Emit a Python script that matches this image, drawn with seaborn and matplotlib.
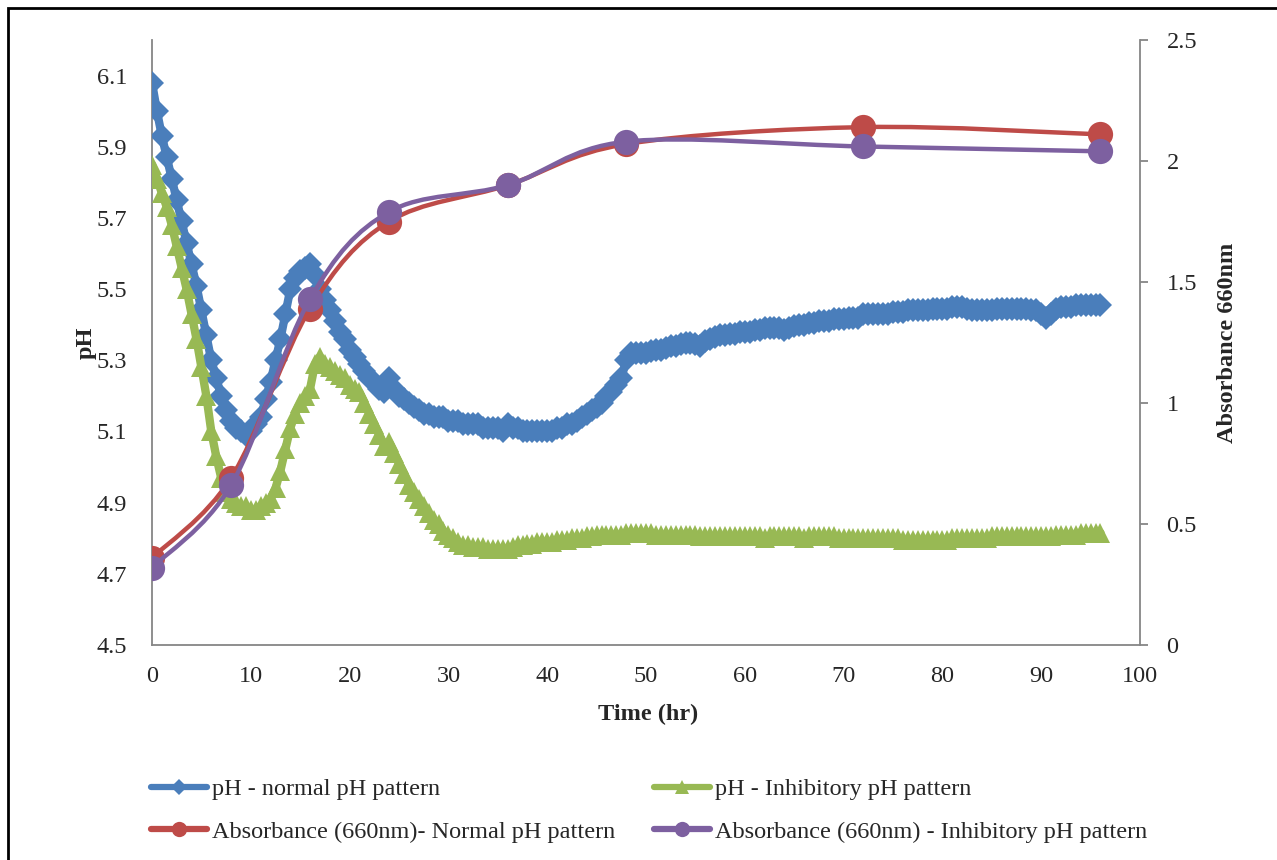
import numpy as np
import matplotlib
matplotlib.use('Agg')
import matplotlib.pyplot as plt
import seaborn as sns
from matplotlib.path import Path
from matplotlib.patches import PathPatch, Rectangle
from matplotlib.lines import Line2D

# pH readings, every half hour (hr)
time_hr = [
    0, 0.5, 1, 1.5, 2, 2.5, 3, 3.5, 4, 4.5, 5, 5.5, 6, 6.5, 7, 7.5, 8, 8.5, 9, 9.5,
    10, 10.5, 11, 11.5, 12, 12.5, 13, 13.5, 14, 14.5, 15, 15.5, 16, 16.5, 17, 17.5, 18, 18.5, 19, 19.5,
    20, 20.5, 21, 21.5, 22, 22.5, 23, 23.5, 24, 24.5, 25, 25.5, 26, 26.5, 27, 27.5, 28, 28.5, 29, 29.5,
    30, 30.5, 31, 31.5, 32, 32.5, 33, 33.5, 34, 34.5, 35, 35.5, 36, 36.5, 37, 37.5, 38, 38.5, 39, 39.5,
    40, 40.5, 41, 41.5, 42, 42.5, 43, 43.5, 44, 44.5, 45, 45.5, 46, 46.5, 47, 47.5, 48, 48.5, 49, 49.5,
    50, 50.5, 51, 51.5, 52, 52.5, 53, 53.5, 54, 54.5, 55, 55.5, 56, 56.5, 57, 57.5, 58, 58.5, 59, 59.5,
    60, 60.5, 61, 61.5, 62, 62.5, 63, 63.5, 64, 64.5, 65, 65.5, 66, 66.5, 67, 67.5, 68, 68.5, 69, 69.5,
    70, 70.5, 71, 71.5, 72, 72.5, 73, 73.5, 74, 74.5, 75, 75.5, 76, 76.5, 77, 77.5, 78, 78.5, 79, 79.5,
    80, 80.5, 81, 81.5, 82, 82.5, 83, 83.5, 84, 84.5, 85, 85.5, 86, 86.5, 87, 87.5, 88, 88.5, 89, 89.5,
    90, 90.5, 91, 91.5, 92, 92.5, 93, 93.5, 94, 94.5, 95, 95.5, 96,
]

ph_normal = [
    6.08, 6.00, 5.93, 5.87, 5.81, 5.75, 5.69, 5.63, 5.57, 5.51, 5.44, 5.37, 5.30, 5.25, 5.20, 5.16, 5.13, 5.11, 5.10, 5.09,
    5.10, 5.12, 5.14, 5.19, 5.24, 5.30, 5.36, 5.43, 5.50, 5.53, 5.55, 5.56, 5.57, 5.54, 5.50, 5.47, 5.44, 5.41, 5.38, 5.36,
    5.33, 5.31, 5.29, 5.27, 5.25, 5.24, 5.22, 5.21, 5.25, 5.22, 5.20, 5.19, 5.18, 5.17, 5.16, 5.15, 5.15, 5.14, 5.14, 5.14,
    5.13, 5.13, 5.13, 5.12, 5.12, 5.12, 5.12, 5.11, 5.11, 5.11, 5.11, 5.10, 5.12, 5.11, 5.11, 5.10, 5.10, 5.10, 5.10, 5.10,
    5.10, 5.10, 5.11, 5.11, 5.12, 5.12, 5.13, 5.14, 5.15, 5.16, 5.17, 5.18, 5.20, 5.21, 5.23, 5.25, 5.30, 5.32, 5.32, 5.32,
    5.32, 5.325, 5.33, 5.33, 5.335, 5.34, 5.34, 5.345, 5.35, 5.35, 5.345, 5.34, 5.355, 5.36, 5.365, 5.37, 5.37, 5.375, 5.375, 5.38,
    5.38, 5.38, 5.385, 5.385, 5.39, 5.39, 5.39, 5.39, 5.385, 5.39, 5.395, 5.40, 5.40, 5.405, 5.405, 5.41, 5.41, 5.41, 5.415, 5.415,
    5.415, 5.42, 5.42, 5.42, 5.43, 5.43, 5.43, 5.43, 5.43, 5.43, 5.435, 5.435, 5.435, 5.44, 5.44, 5.44, 5.44, 5.44, 5.445, 5.445,
    5.445, 5.445, 5.45, 5.45, 5.45, 5.445, 5.44, 5.44, 5.44, 5.44, 5.44, 5.445, 5.445, 5.445, 5.445, 5.445, 5.445, 5.445, 5.44, 5.44,
    5.43, 5.42, 5.43, 5.445, 5.45, 5.45, 5.45, 5.455, 5.455, 5.455, 5.455, 5.455, 5.455,
]

ph_inhib = [
    5.85, 5.81, 5.77, 5.73, 5.68, 5.62, 5.56, 5.50, 5.43, 5.36, 5.28, 5.20, 5.10, 5.03, 4.97, 4.93, 4.91, 4.90, 4.89, 4.89,
    4.88, 4.88, 4.89, 4.90, 4.91, 4.94, 4.99, 5.05, 5.11, 5.15, 5.18, 5.20, 5.22, 5.29, 5.31, 5.29, 5.28, 5.27, 5.26, 5.25,
    5.23, 5.22, 5.21, 5.18, 5.15, 5.12, 5.09, 5.06, 5.07, 5.04, 5.01, 4.98, 4.95, 4.93, 4.91, 4.89, 4.87, 4.85, 4.84, 4.82,
    4.81, 4.80, 4.79, 4.78, 4.78, 4.775, 4.775, 4.775, 4.77, 4.77, 4.77, 4.77, 4.77, 4.775, 4.78, 4.78, 4.785, 4.785, 4.79, 4.79,
    4.79, 4.79, 4.795, 4.795, 4.795, 4.80, 4.80, 4.80, 4.805, 4.805, 4.81, 4.81, 4.81, 4.81, 4.81, 4.81, 4.815, 4.815, 4.815, 4.815,
    4.815, 4.815, 4.81, 4.81, 4.81, 4.81, 4.81, 4.81, 4.81, 4.81, 4.81, 4.805, 4.805, 4.805, 4.805, 4.805, 4.805, 4.805, 4.805, 4.805,
    4.805, 4.805, 4.805, 4.805, 4.80, 4.805, 4.805, 4.805, 4.805, 4.805, 4.805, 4.805, 4.80, 4.805, 4.805, 4.805, 4.805, 4.805, 4.805, 4.80,
    4.80, 4.80, 4.80, 4.80, 4.80, 4.80, 4.80, 4.80, 4.80, 4.80, 4.80, 4.80, 4.795, 4.795, 4.795, 4.795, 4.795, 4.795, 4.795, 4.795,
    4.795, 4.795, 4.80, 4.80, 4.80, 4.80, 4.80, 4.80, 4.80, 4.80, 4.805, 4.805, 4.805, 4.805, 4.805, 4.805, 4.805, 4.805, 4.805, 4.805,
    4.805, 4.805, 4.805, 4.81, 4.81, 4.81, 4.81, 4.81, 4.815, 4.815, 4.815, 4.815, 4.815,
]

# absorbance sampling (hr) and readings
abs_time = [0, 8, 16, 24, 36, 48, 72, 96]
abs_normal = [0.36, 0.69, 1.39, 1.75, 1.90, 2.07, 2.14, 2.11]
abs_inhib = [0.32, 0.66, 1.43, 1.79, 1.90, 2.08, 2.06, 2.04]

labels = [
    'pH - normal pH pattern',
    'pH - Inhibitory pH pattern',
    'Absorbance (660nm)- Normal pH pattern',
    'Absorbance (660nm) - Inhibitory pH pattern',
]

BLUE = '#4A7EBB'
GREEN = '#98B954'
RED = '#BE4B48'
PURPLE = '#7D60A0'
GREY = '#868686'
FS = 17.5

sns.set_style('white')
plt.rcParams['font.family'] = ['Liberation Serif', 'DejaVu Serif']
plt.rcParams['font.size'] = FS


def smooth_path(xs, ys):
    # excel-like smoothed line (cardinal bezier through the points)
    pts = np.column_stack([xs, ys]).astype(float)
    n = len(pts)
    verts = [pts[0]]
    codes = [Path.MOVETO]
    for i in range(n - 1):
        p0 = pts[max(i - 1, 0)]
        p1 = pts[i]
        p2 = pts[i + 1]
        p3 = pts[min(i + 2, n - 1)]
        verts += [p1 + (p2 - p0) / 6, p2 - (p3 - p1) / 6, p2]
        codes += [Path.CURVE4] * 3
    return Path(verts, codes)


fig = plt.figure(figsize=(12.77, 8.6), dpi=100)
ax = fig.add_axes([152 / 1277, 215 / 860, 988 / 1277, 605 / 860])

sns.lineplot(x=time_hr, y=ph_normal, ax=ax, color=BLUE, marker='D', markersize=12,
             markeredgewidth=0, linewidth=6, errorbar=None, zorder=3)
sns.lineplot(x=time_hr, y=ph_inhib, ax=ax, color=GREEN, marker='^', markersize=14,
             markeredgewidth=0, linewidth=6, errorbar=None, zorder=4)

ax.set_xlim(0, 100)
ax.set_ylim(4.5, 6.2)
ax.set_xticks(range(0, 101, 10))
ax.set_yticks([4.5, 4.7, 4.9, 5.1, 5.3, 5.5, 5.7, 5.9, 6.1])
ax.set_yticklabels(['4.5', '4.7', '4.9', '5.1', '5.3', '5.5', '5.7', '5.9', '6.1'])
ax.tick_params(axis='y', length=0, pad=18, labelsize=FS)
ax.tick_params(axis='x', length=0, pad=15, labelsize=FS)
for s in ['top', 'right']:
    ax.spines[s].set_visible(False)
for s in ['left', 'bottom']:
    ax.spines[s].set_color(GREY)
    ax.spines[s].set_linewidth(1.3)
ax.set_xlabel('Time (hr)', fontweight='bold', fontsize=FS)
ax.set_ylabel('pH', fontweight='bold', fontsize=FS)
ax.xaxis.set_label_coords(0.502, -0.098)
ax.yaxis.set_label_coords(-0.056, 0.5)

ax2 = ax.twinx()
ax2.patch.set_visible(False)
for xs, ys, col, z in [(abs_time, abs_normal, RED, 5), (abs_time, abs_inhib, PURPLE, 7)]:
    ax2.add_patch(PathPatch(smooth_path(xs, ys), fill=False, edgecolor=col,
                            linewidth=3.2, capstyle='round', zorder=z))
    sns.scatterplot(x=xs, y=ys, ax=ax2, color=col, s=330, linewidth=0, zorder=z + 1)
ax2.set_ylim(0, 2.5)
ax2.set_yticks([0, 0.5, 1, 1.5, 2, 2.5])
ax2.set_yticklabels(['0', '0.5', '1', '1.5', '2', '2.5'])
ax2.tick_params(axis='y', length=6, width=1.3, color=GREY, pad=13, labelsize=FS)
for s in ['top', 'left', 'bottom']:
    ax2.spines[s].set_visible(False)
ax2.spines['right'].set_color(GREY)
ax2.spines['right'].set_linewidth(1.3)
ax2.set_ylabel('Absorbance 660nm', fontweight='bold', fontsize=FS)
ax2.yaxis.set_label_coords(1.078, 0.5)

handles = [
    Line2D([], [], color=BLUE, marker='D', markersize=8, lw=4.5, mew=0),
    Line2D([], [], color=RED, marker='o', markersize=11, lw=4.5, mew=0),
    Line2D([], [], color=GREEN, marker='^', markersize=10, lw=4.5, mew=0),
    Line2D([], [], color=PURPLE, marker='o', markersize=11, lw=4.5, mew=0),
]
fig.legend(handles, [labels[0], labels[2], labels[1], labels[3]], ncol=2,
           loc='upper left', bbox_to_anchor=(151 / 1277, 1 - 778 / 860),
           frameon=False, fontsize=FS, handlelength=2.3, handletextpad=0.2,
           columnspacing=1.6, labelspacing=0.85, borderpad=0, borderaxespad=0)

fig.patches.append(Rectangle((8 / 1277, -0.1), 1.2, 1.0907, transform=fig.transFigure,
                             fill=False, edgecolor='black', linewidth=2))

fig.savefig('out.png', dpi=100)
